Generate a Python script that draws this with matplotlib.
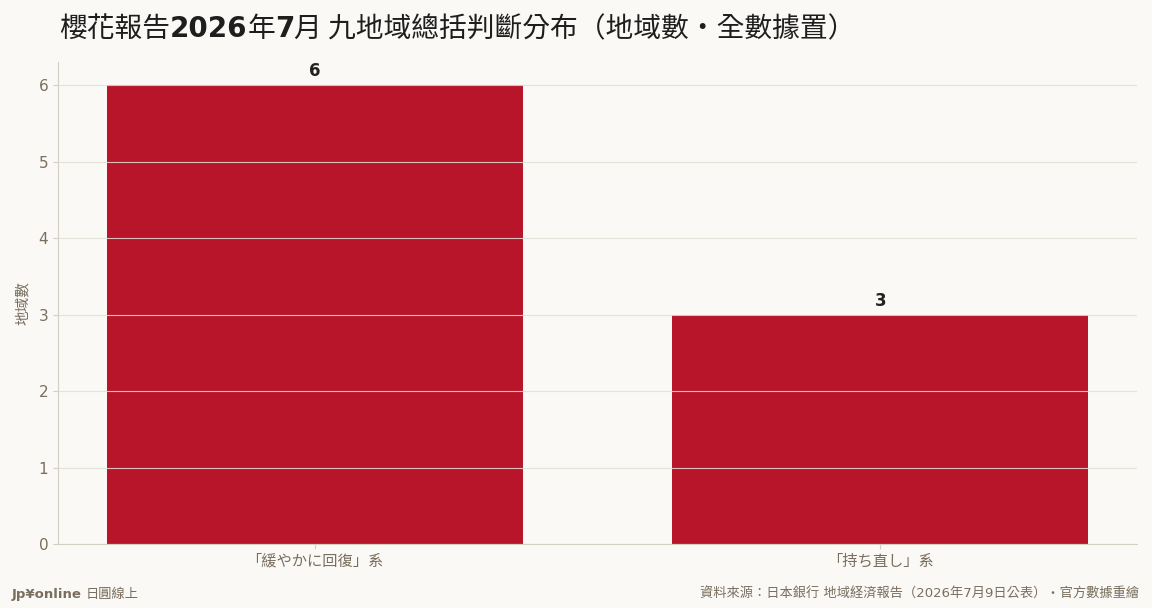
import matplotlib.pyplot as plt
from matplotlib.offsetbox import TextArea, HPacker, AnchoredOffsetbox

categories = ['「緩やかに回復」系', '「持ち直し」系']
counts = [6, 3]
yticks = [0, 1, 2, 3, 4, 5, 6]

# title pieces: (text, bold?)
title_parts = [('櫻花報告', False), ('2026', True), ('年', False), ('7', True),
               ('月 九地域總括判斷分布（地域數・全數據置）', False)]

BG = '#faf9f6'
BAR = '#b8152b'
TXT = '#7a6e5e'
GRID = '#e2ded5'
SPINE = '#d4cfc3'
FONTS = ['DejaVu Sans', 'Noto Sans CJK TC']

plt.rcParams['font.family'] = FONTS

fig = plt.figure(figsize=(11.52, 6.08), dpi=100, facecolor=BG)
ax = fig.add_axes([0.0503, 0.105, 0.9367, 0.793], facecolor=BG)

x = list(range(len(categories)))
bars = ax.bar(x, counts, width=0.735, color=BAR, zorder=1)
for xi, v in zip(x, counts):
    ax.text(xi, v + 0.06, str(v), ha='center', va='bottom',
            fontsize=12, fontweight='bold', color='#222222')

ax.set_xticks(x)
ax.set_xticklabels(categories, fontsize=11, color=TXT)
ax.set_yticks(yticks)
ax.set_yticklabels([str(t) for t in yticks], fontsize=11, color=TXT)
ax.set_ylim(0, 6.3)
ax.set_ylabel('地域數', fontsize=10.5, color=TXT, labelpad=6)

ax.grid(axis='y', color=GRID, linewidth=0.8, alpha=0.85, zorder=2)
ax.set_axisbelow(False)
for s in ['top', 'right']:
    ax.spines[s].set_visible(False)
for s in ['left', 'bottom']:
    ax.spines[s].set_color(SPINE)
ax.tick_params(axis='both', colors=SPINE, labelcolor=TXT)

# title built from pieces so only the digits are bold
pieces = []
for txt, bold in title_parts:
    if bold:
        props = dict(fontsize=20, fontweight='bold', color='#1e1e1e', family='DejaVu Sans')
    else:
        props = dict(fontsize=20, fontweight='normal', color='#1e1e1e',
                     family=['Noto Sans CJK TC', 'DejaVu Sans'])
    pieces.append(TextArea(txt, textprops=props))
title_box = HPacker(children=pieces, align='baseline', pad=0, sep=0)
anchored = AnchoredOffsetbox(loc='center left', child=title_box, pad=0, borderpad=0,
                             frameon=False, bbox_to_anchor=(0.051, 0.952),
                             bbox_transform=fig.transFigure)
fig.add_artist(anchored)

fig.text(0.010, 0.022, 'Jp¥online', fontsize=9.5, fontweight='bold', color=TXT,
         ha='left', va='center')
fig.text(0.074, 0.022, '日圓線上', fontsize=9.5, color=TXT, ha='left', va='center')
fig.text(0.989, 0.022, '資料來源：日本銀行 地域経済報告（2026年7月9日公表）・官方數據重繪',
         fontsize=9.5, color=TXT, ha='right', va='center')

fig.savefig('out.png', dpi=100, facecolor=BG)
